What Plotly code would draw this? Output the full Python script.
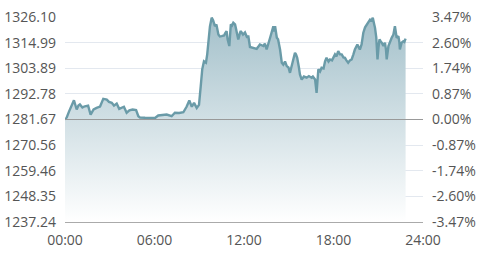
import plotly.graph_objects as go

prev_close = 1281.67
y_ticks = [1237.24, 1248.35, 1259.46, 1270.56, 1281.67, 1292.78, 1303.89, 1314.99, 1326.10]
pct_ticks = ["-3.47%", "-2.60%", "-1.74%", "-0.87%", "0.00%", "0.87%", "1.74%", "2.60%", "3.47%"]
x_tickvals = [0, 360, 720, 1080, 1440]
x_ticktext = ["00:00", "06:00", "12:00", "18:00", "24:00"]

minutes = [0, 7, 16, 28, 36, 47, 54, 60, 70, 80, 93, 103, 115, 127, 141, 154, 168, 177, 188, 197,
           208, 218, 227, 237, 248, 259, 272, 286, 295, 302, 322, 342, 362, 375, 390, 409, 429, 442,
           459, 476, 489, 500, 510, 519, 530, 539, 546, 552, 559, 567, 572, 576, 583, 590, 596, 603,
           609, 617, 623, 630, 640, 644, 650, 654, 661, 667, 672, 677, 684, 687, 693, 697, 704, 707,
           716, 724, 733, 737, 744, 756, 771, 778, 784, 798, 804, 811, 818, 825, 831, 838, 841, 845,
           852, 857, 865, 872, 878, 885, 892, 899, 905, 911, 916, 925, 929, 934, 941, 945, 952, 961,
           972, 981, 992, 997, 1006, 1012, 1019, 1026, 1032, 1040, 1046, 1052, 1060, 1066, 1074,
           1086, 1092, 1099, 1106, 1113, 1120, 1126, 1132, 1139, 1146, 1153, 1160, 1166, 1176, 1180,
           1186, 1193, 1200, 1207, 1214, 1221, 1227, 1233, 1238, 1243, 1247, 1252, 1257, 1261, 1265,
           1270, 1274, 1281, 1287, 1291, 1294, 1301, 1307, 1314, 1321, 1327, 1334, 1341, 1345, 1347,
           1354, 1361, 1365, 1370]
prices = [1281.67, 1282.54, 1285.1, 1288.6, 1290.0, 1286.0, 1287.7, 1288.2, 1286.9, 1287.4, 1287.7,
          1283.8, 1286.0, 1286.7, 1287.3, 1290.6, 1290.3, 1289.3, 1288.9, 1287.7, 1288.6, 1286.3,
          1286.9, 1287.2, 1284.6, 1285.6, 1286.0, 1285.8, 1283.1, 1282.5, 1282.4, 1282.4, 1282.3,
          1283.4, 1283.6, 1283.8, 1283.1, 1284.6, 1284.5, 1284.8, 1287.2, 1289.9, 1287.2, 1288.9,
          1286.7, 1288.0, 1296.1, 1303.4, 1306.9, 1306.3, 1309.9, 1315.6, 1322.0, 1325.8, 1324.6,
          1322.1, 1322.9, 1318.5, 1317.7, 1317.8, 1318.1, 1319.0, 1320.0, 1316.4, 1313.5, 1322.9,
          1322.4, 1323.6, 1322.9, 1321.4, 1318.5, 1316.4, 1319.3, 1320.0, 1318.5, 1319.4, 1317.1,
          1318.1, 1313.1, 1312.7, 1312.3, 1313.3, 1314.2, 1313.5, 1314.6, 1312.0, 1315.1, 1317.1,
          1319.4, 1322.1, 1319.8, 1322.1, 1317.1, 1316.4, 1312.0, 1306.3, 1305.5, 1306.8, 1304.8,
          1304.2, 1301.9, 1304.2, 1306.3, 1310.6, 1309.9, 1308.4, 1304.2, 1301.2, 1299.0, 1300.3,
          1299.8, 1300.5, 1299.8, 1300.3, 1299.0, 1293.2, 1303.4, 1302.5, 1304.1, 1303.8, 1306.9,
          1308.4, 1306.8, 1307.7, 1307.3, 1309.9, 1309.0, 1311.3, 1309.9, 1309.9, 1308.6, 1308.4,
          1307.3, 1306.3, 1307.3, 1307.7, 1309.9, 1312.0, 1314.2, 1313.3, 1312.0, 1314.2, 1319.3,
          1321.6, 1322.9, 1324.2, 1325.0, 1324.6, 1325.8, 1323.3, 1321.4, 1317.3, 1307.7, 1312.9,
          1316.4, 1315.5, 1315.0, 1313.5, 1315.0, 1312.0, 1307.7, 1313.5, 1315.5, 1317.1, 1318.5,
          1322.1, 1317.1, 1317.8, 1315.1, 1312.0, 1315.0, 1315.6, 1315.3, 1316.7]

ymin, ymax = y_ticks[0], y_ticks[-1]
pmax = (ymax / prev_close - 1) * 100

fig = go.Figure()
fig.add_trace(go.Scatter(
    x=minutes, y=prices, mode="lines",
    line=dict(color="#6a9ba8", width=2.4),
    fill="tozeroy",
    fillgradient=dict(type="vertical",
                      colorscale=[[0, "rgba(255,255,255,1)"], [1, "rgba(163,192,202,1)"]],
                      start=ymin, stop=ymax),
    hoverinfo="skip", showlegend=False,
))
# invisible trace to drive right axis
fig.add_trace(go.Scatter(x=[minutes[0]], y=[0], yaxis="y2", mode="markers",
                         marker=dict(opacity=0), showlegend=False, hoverinfo="skip"))

font = dict(family="Open Sans, Noto Sans, sans-serif", size=14, color="#555")
fig.update_layout(
    width=488, height=254,
    margin=dict(l=65, r=65, t=17, b=32),
    paper_bgcolor="white", plot_bgcolor="white",
    font=font,
    xaxis=dict(range=[0, 1440], tickvals=x_tickvals, ticktext=x_ticktext,
               showgrid=False, zeroline=False, showline=True, linecolor="#aaaaaa",
               linewidth=1, ticks="", tickfont=font, ticklabelstandoff=5, automargin=False),
    yaxis=dict(range=[ymin, ymax], tickvals=y_ticks, ticktext=[f"{v:.2f}" for v in y_ticks],
               showgrid=True, gridcolor="#e3e8ef", gridwidth=1, zeroline=False,
               showline=False, ticks="", tickfont=font, ticklabelstandoff=8, automargin=False),
    yaxis2=dict(range=[-pmax, pmax], overlaying="y", side="right",
                tickvals=[-pmax + i * pmax / 4 for i in range(9)], ticktext=pct_ticks,
                showgrid=False, zeroline=False, showline=False, ticks="", tickfont=font,
                ticklabelstandoff=8, automargin=False),
    shapes=[dict(type="line", xref="paper", x0=0, x1=1, yref="y", y0=prev_close, y1=prev_close,
                 line=dict(color="#999999", width=1), layer="above")],
)
fig.write_html("out.html")
